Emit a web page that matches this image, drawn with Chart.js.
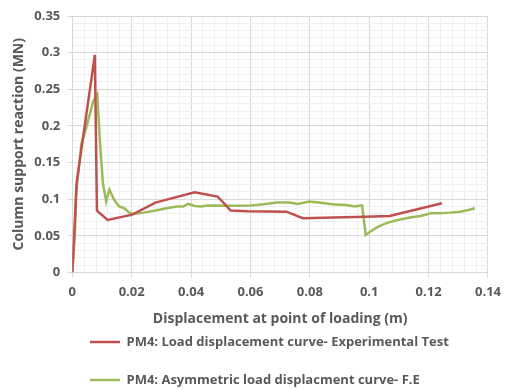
<!DOCTYPE html>
<html>
<head>
<meta charset="utf-8">
<script src="https://cdn.jsdelivr.net/npm/chart.js@4/dist/chart.umd.min.js"></script>
<style>
html,body{margin:0;padding:0;background:#fff;}
#wrap{width:508px;height:390px;position:relative;}
</style>
</head>
<body>
<div id="wrap"><canvas id="c" width="508" height="390"></canvas></div>
<script>
const seriesNames = [
  'PM4: Load displacement curve- Experimental Test',
  'PM4: Asymmetric load displacment curve- F.E'
];
const expX = [0, 0.0015, 0.0076, 0.0083, 0.0119, 0.0202, 0.028, 0.0412, 0.0489, 0.0511, 0.0533, 0.0589, 0.0721, 0.0776, 0.0986, 0.1069, 0.1245];
const expY = [0, 0.124, 0.297, 0.0845, 0.0717, 0.0790, 0.0954, 0.1096, 0.1036, 0.0945, 0.0845, 0.0835, 0.0830, 0.0740, 0.0762, 0.0772, 0.0945];
const feX = [0, 0.0009, 0.0013, 0.0031, 0.0048, 0.0070, 0.0084, 0.0094, 0.0103, 0.0114, 0.0125, 0.0141, 0.0158, 0.0175, 0.0191, 0.0205,
  0.024, 0.028, 0.0318, 0.0351, 0.0373, 0.039, 0.0412, 0.0434, 0.0456, 0.0555, 0.060, 0.0644, 0.0688, 0.0732, 0.076, 0.0798, 0.0831,
  0.0876, 0.092, 0.0953, 0.097, 0.0976, 0.0988, 0.1003, 0.103, 0.1063, 0.1096, 0.1141, 0.1174, 0.1207, 0.124, 0.1273, 0.1306, 0.1334, 0.1356];
const feY = [0, 0.054, 0.110, 0.176, 0.199, 0.233, 0.243, 0.172, 0.122, 0.097, 0.113, 0.099, 0.090, 0.0877, 0.082, 0.0800,
  0.0817, 0.0845, 0.0877, 0.090, 0.090, 0.0936, 0.0908, 0.090, 0.0913, 0.0910, 0.0913, 0.0931, 0.0954, 0.0954, 0.0936, 0.0967, 0.0954,
  0.0931, 0.0922, 0.090, 0.0915, 0.0915, 0.0512, 0.0557, 0.0626, 0.068, 0.0717, 0.0754, 0.0772, 0.0809, 0.0809, 0.0817, 0.083, 0.0854, 0.0877];
const xTickLabels = ['0', '0.02', '0.04', '0.06', '0.08', '0.1', '0.12', '0.14'];
const yTickLabels = ['0', '0.05', '0.1', '0.15', '0.2', '0.25', '0.3', '0.35'];

const toPts = (xs, ys) => xs.map((x, i) => ({x: x, y: ys[i]}));
const textColor = '#595959';
const majorGrid = '#d9d9d9';
const minorGrid = '#f0f0f0';
const fam = "'Open Sans', sans-serif";

// place the legend block like the reference (left-aligned rows under the axis title)
const legendPlacer = {
  id: 'legendPlacer',
  beforeDraw(chart) {
    const lg = chart.legend;
    if (!lg) return;
    lg.left = 65;
    lg.top = 310.5;
    lg.bottom = 420;
    lg.height = lg.bottom - lg.top;
  }
};

new Chart(document.getElementById('c'), {
  type: 'scatter',
  data: {
    datasets: [
      {label: seriesNames[0], data: toPts(expX, expY), showLine: true, borderColor: '#C0504D', backgroundColor: '#C0504D', borderWidth: 2.5, pointRadius: 0, tension: 0},
      {label: seriesNames[1], data: toPts(feX, feY), showLine: true, borderColor: '#9BBB59', backgroundColor: '#9BBB59', borderWidth: 2.5, pointRadius: 0, tension: 0}
    ]
  },
  plugins: [legendPlacer],
  options: {
    responsive: false,
    animation: false,
    layout: {padding: {left: 0, right: 13, top: 16, bottom: 0}},
    plugins: {
      legend: {
        position: 'bottom',
        align: 'start',
        maxHeight: 63,
        labels: {
          usePointStyle: true, pointStyle: 'line', pointStyleWidth: 30,
          color: textColor, padding: 25,
          font: {family: fam, size: 13, weight: 'bold'}
        }
      },
      tooltip: {enabled: false}
    },
    scales: {
      x: {
        type: 'linear', min: 0, max: 0.14,
        afterFit: s => { s.height = 54.5; },
        ticks: {
          stepSize: 0.004, autoSkip: false, maxRotation: 0, color: textColor, padding: 7,
          font: {family: fam, size: 13, weight: 'bold'},
          callback: (v, i) => (i % 5 === 0 ? xTickLabels[i / 5] : '')
        },
        grid: {
          color: c => (c.index % 5 === 0 ? majorGrid : minorGrid),
          tickColor: c => (c.index % 5 === 0 ? majorGrid : 'rgba(0,0,0,0)'),
          tickLength: 5
        },
        border: {color: majorGrid},
        title: {display: true, text: 'Displacement at point of loading (m)', color: textColor, font: {family: fam, size: 14, weight: 'bold'}, padding: {top: 0, bottom: 0}}
      },
      y: {
        type: 'linear', min: 0, max: 0.35,
        afterFit: s => { s.width = 72.3; },
        ticks: {
          stepSize: 0.01, autoSkip: false, color: textColor, padding: 7,
          font: {family: fam, size: 13, weight: 'bold'},
          callback: (v, i) => (i % 5 === 0 ? yTickLabels[i / 5] : '')
        },
        grid: {
          color: c => (c.index % 5 === 0 ? majorGrid : minorGrid),
          tickColor: c => (c.index % 5 === 0 ? majorGrid : 'rgba(0,0,0,0)'),
          tickLength: 5
        },
        border: {color: majorGrid},
        title: {display: true, text: 'Column support reaction (MN)', color: textColor, font: {family: fam, size: 14, weight: 'bold'}, padding: {top: 11, bottom: 0}}
      }
    }
  }
});
</script>
</body>
</html>
